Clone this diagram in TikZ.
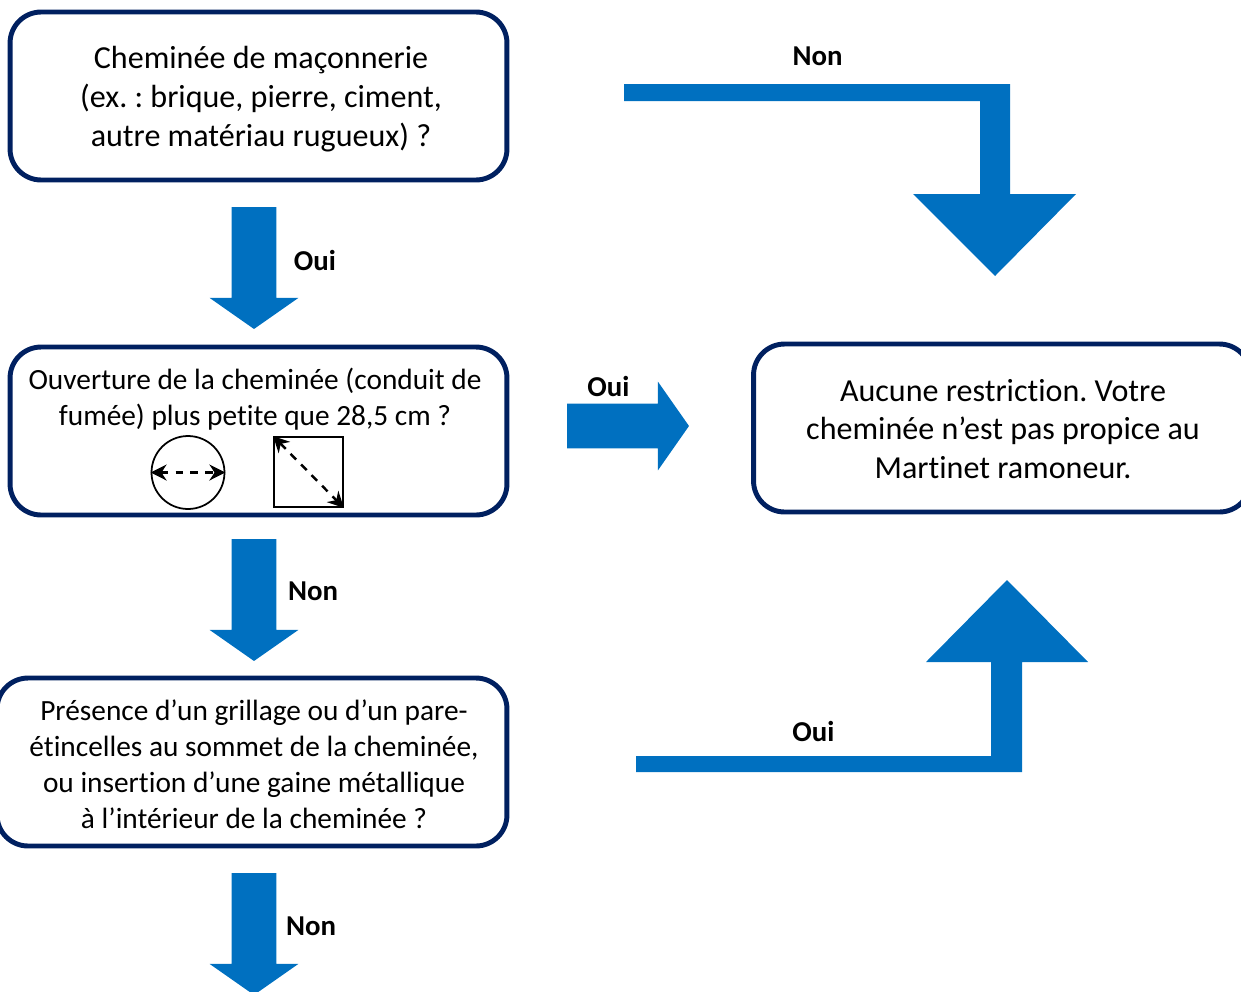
\documentclass[tikz,border=0pt]{standalone}
\usepackage{fontspec}
\setmainfont[Ligatures=NoCommon]{Carlito}
\usetikzlibrary{positioning,shapes.arrows,arrows.meta}
\definecolor{boxblue}{HTML}{002060}
\definecolor{arrowblue}{HTML}{0070C0}
\tikzset{
  question/.style={draw=boxblue, line width=2.8pt, rounded corners=0.62cm, fill=white, inner sep=0pt,
    minimum width=9.94cm, minimum height=3.36cm},
  bigtext/.style={align=center, font=\frenchspacing\fontsize{18.25}{22.1}\selectfont},
  smalltext/.style={align=center, font=\frenchspacing\fontsize{16.7}{20.4}\selectfont},
  answer/.style={font=\fontsize{16.4}{18}\selectfont\bfseries},
  downup/.style={single arrow, fill=arrowblue, inner sep=0.44cm, outer sep=0pt, minimum height=2.44cm,
    single arrow head extend=0.44cm, single arrow head indent=0pt, single arrow tip angle=110},
  bent/.style={fill=arrowblue},
  measure/.style={draw, line width=1.4pt, dash pattern=on 4.5pt off 4pt, {Stealth[length=0.32cm,width=0.32cm]}-{Stealth[length=0.32cm,width=0.32cm]}}
}
\begin{document}
\begin{tikzpicture}[x=0.02cm,y=-0.02cm]
      \path [use as bounding box, clip] (0,0) rectangle (1241,991);
      \node [question]               (chem)  at (258.5,96)  {};
      \node [bigtext]                (chemt) at (261,99)    {Cheminée de maçonnerie\\(ex. : brique, pierre, ciment,\\autre matériau rugueux) ?};
      \node [question]               (ouv)   at (258.5,431) {};
      \node [smalltext]              (ouvt)  at (255,399.5) {Ouverture de la cheminée (conduit de\\fumée) plus petite que 28,5 cm ?};
      \node [question, minimum width=10.2cm] (pres) at (252,762) {};
      \node [smalltext]              (prest) at (254,764.5) {Présence d’un grillage ou d’un pare-\\étincelles au sommet de la cheminée,\\ou insertion d’une gaine métallique\\à l’intérieur de la cheminée ?};
      \node [question]               (aucune)  at (1002,428) {};
      \node [bigtext]                (aucunet) at (1003,429) {Aucune restriction. Votre\\cheminée n’est pas propice au\\Martinet ramoneur.};
      % small shapes
      \node [circle, draw, line width=1pt, minimum size=1.46cm, inner sep=0pt] (rond) at (188,472.5) {};
      \node [rectangle, draw, line width=1pt, minimum width=1.38cm, minimum height=1.4cm, inner sep=0pt] (carre) at (308.5,472) {};
      \draw [measure] (rond.west) -- (rond.east);
      \draw [measure] (carre.north west) -- (carre.south east);
      % block arrows
      \node [downup, shape border rotate=270, anchor=tail] (a1) at (254,207) {};
      \node [downup, shape border rotate=270, anchor=tail] (a2) at (254,539) {};
      \node [downup, shape border rotate=270, anchor=tail] (a3) at (254,873) {};
      \node [downup, anchor=tail] (a4) at (567,426) {};
      \fill [bent] (624,84) -- (1010,84) -- (1010,194) -- (1076,194) -- (995,276) -- (913,194) -- (980,194) -- (980,101) -- (624,101) -- cycle;
      \fill [bent] (636,756) -- (991,756) -- (991,662) -- (926,662) -- (1007,580) -- (1088,662) -- (1022,662) -- (1022,772) -- (636,772) -- cycle;
      % answers
      \node [answer] (l1) at (315,260.5) {Oui};
      \node [answer] (l2) at (313,591) {Non};
      \node [answer] (l3) at (311,926) {Non};
      \node [answer] (l4) at (608.5,386) {Oui};
      \node [answer] (l5) at (817.5,56)  {Non};
      \node [answer] (l6) at (813.5,731) {Oui};
\end{tikzpicture}
\end{document}
